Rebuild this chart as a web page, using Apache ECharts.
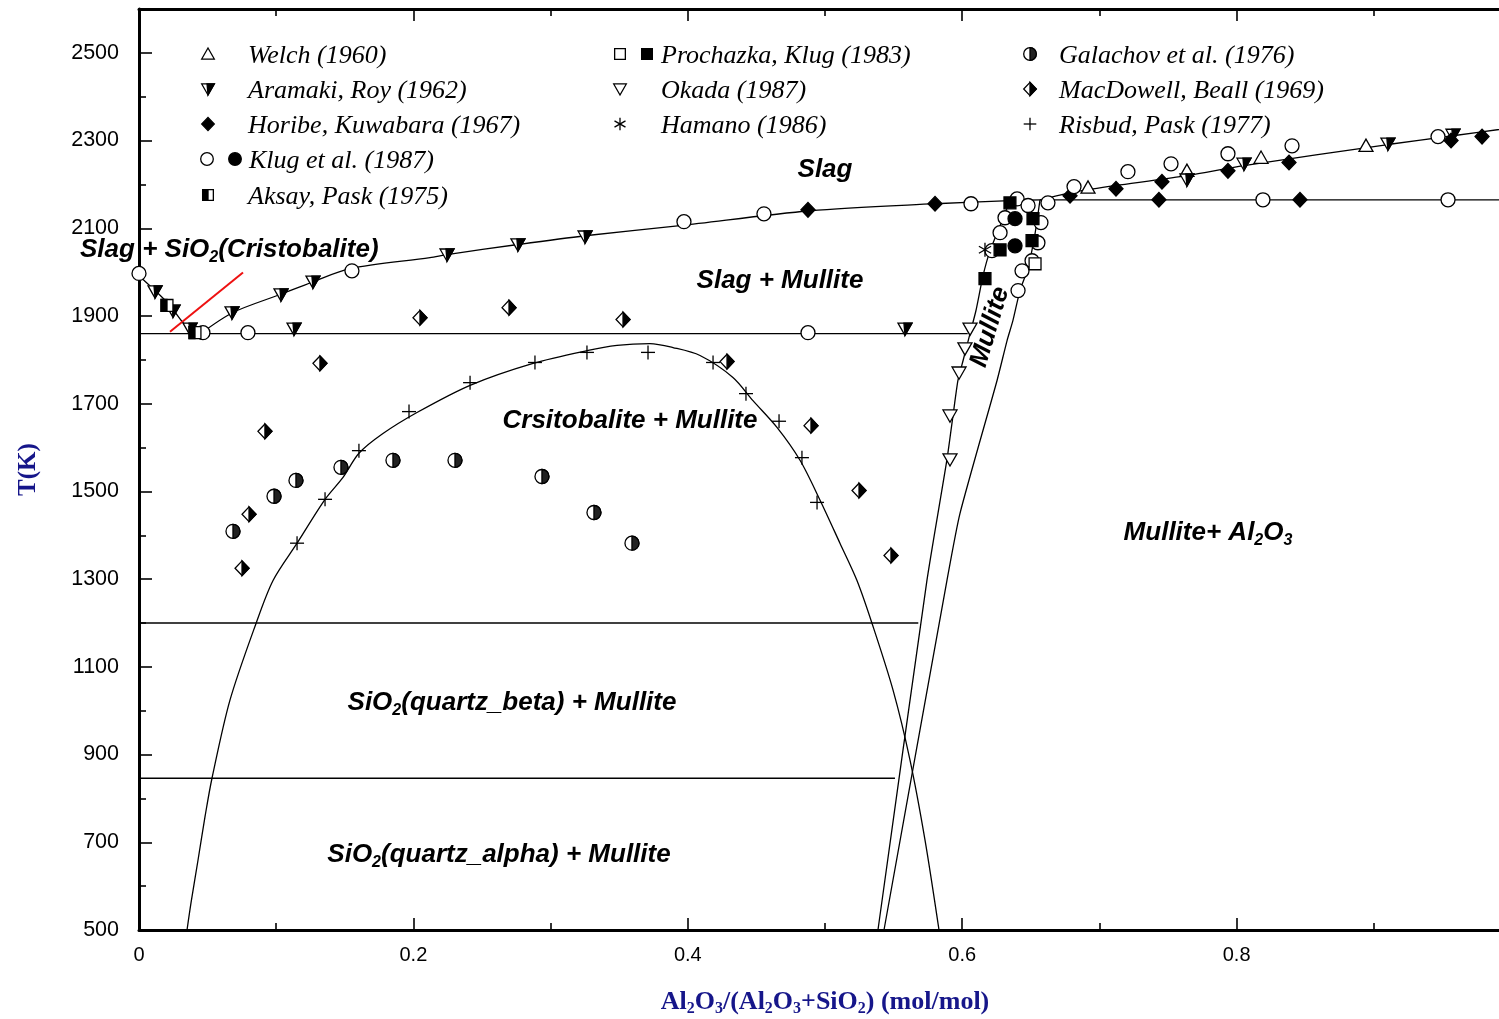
<!DOCTYPE html>
<html>
<head>
<meta charset="utf-8">
<script src="https://cdn.jsdelivr.net/npm/echarts@6/dist/echarts.min.js"></script>
<style>
  html, body { margin: 0; padding: 0; background: #fff; }
  #chart { width: 1499px; height: 1019px; }
</style>
</head>
<body>
<div id="chart"></div>
<script>
// ---- Axis ticks ----
const xTickLabels = [0, 0.2, 0.4, 0.6, 0.8];
const yTickLabels = [500, 700, 900, 1100, 1300, 1500, 1700, 1900, 2100, 2300, 2500];
const yMinorTicks = [600, 800, 1000, 1200, 1400, 1600, 1800, 2000, 2200, 2400];

// ---- Phase boundaries: [Al2O3 mole fraction, T (K)] ----
const liquidusSilica = [[0, 1992], [0.0117, 1958], [0.0226, 1924], [0.0321, 1885], [0.0394, 1864], [0.045, 1860]];
const liquidusMullite = [[0.045, 1860], [0.0685, 1908], [0.1028, 1949], [0.1268, 1978], [0.1538, 2008], [0.2121, 2033],
  [0.2245, 2040], [0.2762, 2063], [0.3251, 2083], [0.3943, 2106], [0.4891, 2140], [0.5802, 2156], [0.6348, 2163], [0.6567, 2165]];
const liquidusCorundum = [[0.6567, 2165], [0.6822, 2183], [0.715, 2199], [0.7638, 2220], [0.8054, 2243], [0.9103, 2291],
  [0.9577, 2311], [1.0, 2329]];
const mulliteCorundumLine = [[0.6567, 2165], [1.0, 2165]];
const eutecticLine = [[0, 1860], [0.604, 1860]];
const quartzBetaLine = [[0, 1200], [0.568, 1200]];
const quartzAlphaLine = [[0, 846], [0.551, 846]];
const mulliteLeft = [[0.6348, 2163], [0.6276, 2106], [0.6203, 2049], [0.6152, 1992], [0.61, 1912], [0.6057, 1860],
  [0.6006, 1798], [0.5969, 1753], [0.5933, 1673], [0.5889, 1573], [0.5743, 1297], [0.5386, 500]];
const mulliteRight = [[0.6567, 2165], [0.6531, 2088], [0.648, 2010], [0.6421, 1958], [0.637, 1890], [0.6327, 1844],
  [0.6254, 1753], [0.5984, 1450], [0.5889, 1297], [0.543, 500]];
const metastableDome = [[0.035, 500], [0.0379, 562], [0.043, 659], [0.0482, 760], [0.0532, 846], [0.0663, 1024],
  [0.0853, 1199], [0.0977, 1297], [0.1152, 1382], [0.1356, 1482], [0.1487, 1532], [0.1603, 1587], [0.1778, 1632],
  [0.2026, 1680], [0.2413, 1742], [0.2872, 1792], [0.3265, 1821], [0.3484, 1833], [0.3724, 1837], [0.3892, 1828],
  [0.4089, 1810], [0.4329, 1760], [0.4475, 1707], [0.465, 1646], [0.4818, 1571], [0.4964, 1480], [0.5109, 1382],
  [0.5233, 1297], [0.5343, 1199], [0.5496, 1047], [0.562, 887], [0.5729, 705], [0.5831, 500]];
const redGuide = [[0.0226, 1864], [0.0758, 1999]];

// ---- Experimental points ----
const welch1960 = [[0.6917, 2193], [0.7638, 2231], [0.8178, 2261], [0.8943, 2288]];
const aramakiRoy1962 = [[0.0117, 1956], [0.0248, 1912], [0.0372, 1871], [0.0678, 1908], [0.1035, 1949], [0.1268, 1978],
  [0.2245, 2040], [0.2762, 2063], [0.3251, 2081], [0.113, 1871], [0.5583, 1871], [0.7638, 2211], [0.8054, 2247],
  [0.9103, 2293], [0.9577, 2313]];
const horibeKuwabara1967 = [[0.4876, 2142], [0.5802, 2156], [0.6786, 2174], [0.7121, 2190], [0.7456, 2206],
  [0.7937, 2231], [0.8382, 2250], [0.9563, 2300], [0.9789, 2309], [0.7434, 2165], [0.8462, 2165]];
const klug1987Open = [[0, 1997], [0.0466, 1862], [0.0794, 1862], [0.1552, 2003], [0.3972, 2115], [0.4555, 2133],
  [0.4876, 1862], [0.6064, 2156], [0.64, 2167], [0.648, 2152], [0.6625, 2158], [0.6815, 2195], [0.7208, 2229],
  [0.7522, 2247], [0.7937, 2270], [0.8404, 2288], [0.9468, 2309], [0.8192, 2165], [0.9541, 2165], [0.6312, 2124],
  [0.6276, 2090], [0.6574, 2113], [0.6217, 2049], [0.6552, 2067], [0.6509, 2026], [0.6436, 2003], [0.6407, 1958]];
const klug1987Filled = [[0.6385, 2122], [0.6385, 2060]];
const aksayPask1975 = [[0.0204, 1924], [0.0408, 1862]];
const prochazkaKlug1983Open = [[0.6531, 2019]];
const prochazkaKlug1983Filled = [[0.6348, 2158], [0.6516, 2122], [0.6276, 2051], [0.6509, 2072], [0.6166, 1985]];
const okada1987 = [[0.6057, 1871], [0.602, 1826], [0.5977, 1771], [0.5911, 1673], [0.5911, 1573]];
const hamano1986 = [[0.6166, 2051]];
const galachov1976 = [[0.0685, 1409], [0.0984, 1489], [0.1144, 1525], [0.1472, 1555], [0.1851, 1571], [0.2303, 1571],
  [0.2937, 1534], [0.3316, 1452], [0.3593, 1382]];
const macDowellBeall1969 = [[0.0751, 1325], [0.0802, 1448], [0.0918, 1637], [0.1319, 1792], [0.2048, 1896],
  [0.2697, 1919], [0.3528, 1892], [0.4286, 1796], [0.4898, 1650], [0.5248, 1502], [0.5481, 1354]];
const risbudPask1977 = [[0.1152, 1382], [0.1356, 1482], [0.1603, 1593], [0.1968, 1682], [0.2413, 1748], [0.2886, 1794],
  [0.3265, 1817], [0.371, 1817], [0.4184, 1794], [0.4424, 1723], [0.4665, 1660], [0.4832, 1577], [0.4942, 1475]];

// ---- Marker glyphs (pixel space) ----
function glyph(kind, x, y, k) {
  k = k || 1;
  const W = { fill: '#fff', stroke: '#000', lineWidth: 1.3 };
  const B = { fill: '#000', stroke: '#000', lineWidth: 1.3 };
  const Ln = { fill: null, stroke: '#000', lineWidth: 1.3 };
  const h = 7 * k;
  const poly = (pts, st) => ({ type: 'polygon', shape: { points: pts }, style: st });
  const line = (x1, y1, x2, y2) => ({ type: 'line', shape: { x1, y1, x2, y2 }, style: Ln });
  switch (kind) {
    case 'triUp':
      return [poly([[x, y - 0.95 * h], [x + h, y + 0.8 * h], [x - h, y + 0.8 * h]], W)];
    case 'triDown':
      return [poly([[x - h, y - 0.8 * h], [x + h, y - 0.8 * h], [x, y + 0.95 * h]], W)];
    case 'triDownHalf':
      return [poly([[x - h, y - 0.8 * h], [x + h, y - 0.8 * h], [x, y + 0.95 * h]], W),
              poly([[x - 0.15 * h, y - 0.8 * h], [x + h, y - 0.8 * h], [x, y + 0.95 * h]], B)];
    case 'diamond':
      return [poly([[x, y - 1.05 * h], [x + h, y], [x, y + 1.05 * h], [x - h, y]], B)];
    case 'diamondHalf':
      return [poly([[x, y - 1.05 * h], [x + h, y], [x, y + 1.05 * h], [x - h, y]], W),
              poly([[x, y - 1.05 * h], [x + h, y], [x, y + 1.05 * h]], B)];
    case 'circle':
      return [{ type: 'circle', shape: { cx: x, cy: y, r: h }, style: W }];
    case 'dot':
      return [{ type: 'circle', shape: { cx: x, cy: y, r: h }, style: B }];
    case 'circleHalf':
      return [{ type: 'circle', shape: { cx: x, cy: y, r: h }, style: W },
              { type: 'sector', shape: { cx: x, cy: y, r: h, r0: 0, startAngle: -Math.PI / 2, endAngle: Math.PI / 2, clockwise: true },
                style: { fill: '#222', stroke: '#000', lineWidth: 1.3 } }];
    case 'square':
      return [{ type: 'rect', shape: { x: x - 0.85 * h, y: y - 0.85 * h, width: 1.7 * h, height: 1.7 * h }, style: W }];
    case 'squareFilled':
      return [{ type: 'rect', shape: { x: x - 0.85 * h, y: y - 0.85 * h, width: 1.7 * h, height: 1.7 * h }, style: B }];
    case 'squareHalf':
      return [{ type: 'rect', shape: { x: x - 0.85 * h, y: y - 0.85 * h, width: 1.7 * h, height: 1.7 * h }, style: W },
              { type: 'rect', shape: { x: x - 0.85 * h, y: y - 0.85 * h, width: 0.85 * h, height: 1.7 * h }, style: B }];
    case 'star':
      return [line(x, y - h, x, y + h), line(x - 0.87 * h, y - 0.5 * h, x + 0.87 * h, y + 0.5 * h),
              line(x - 0.87 * h, y + 0.5 * h, x + 0.87 * h, y - 0.5 * h)];
    case 'plus':
      return [line(x - h, y, x + h, y), line(x, y - h, x, y + h)];
  }
  return [];
}

function pointSeries(name, data, kind) {
  return {
    name, type: 'custom', coordinateSystem: 'cartesian2d', data, z: 5, silent: true,
    renderItem: (params, api) => {
      const p = api.coord([api.value(0), api.value(1)]);
      return { type: 'group', children: glyph(kind, p[0], p[1], 1) };
    }
  };
}

function curve(name, data, opt) {
  return Object.assign({
    name, type: 'line', data, symbol: 'none', showSymbol: false, silent: true, z: 2,
    lineStyle: { color: '#000', width: 1.3 }
  }, opt || {});
}

// ---- Text helpers ----
const SANS = 'Liberation Sans';
const SERIF = 'Liberation Serif';
const regionMain = { fontFamily: SANS, fontWeight: 'bold', fontStyle: 'italic', fontSize: 26, fill: '#000', color: '#000', lineHeight: 32 };
const regionSub = { fontFamily: SANS, fontWeight: 'bold', fontStyle: 'italic', fontSize: 16, fill: '#000', color: '#000', lineHeight: 18, verticalAlign: 'bottom' };

function regionLabel(text, x, y, align, rotDeg) {
  return {
    type: 'text', x, y, rotation: (rotDeg || 0) * Math.PI / 180, z: 10, silent: true,
    style: { text, rich: { b: regionMain, s: regionSub }, align: align || 'center', verticalAlign: 'middle' }
  };
}

// legend entries: glyph kinds, glyph x positions, text x, row y
const legendItems = [
  { label: 'Welch (1960)', kinds: ['triUp'], gx: [208], tx: 248, y: 54 },
  { label: 'Aramaki, Roy (1962)', kinds: ['triDownHalf'], gx: [208], tx: 248, y: 89 },
  { label: 'Horibe, Kuwabara (1967)', kinds: ['diamond'], gx: [208], tx: 248, y: 124 },
  { label: 'Klug et al. (1987)', kinds: ['circle', 'dot'], gx: [207, 235], tx: 249, y: 159 },
  { label: 'Aksay, Pask (1975)', kinds: ['squareHalf'], gx: [208], tx: 248, y: 195 },
  { label: 'Prochazka, Klug (1983)', kinds: ['square', 'squareFilled'], gx: [620, 647], tx: 661, y: 54 },
  { label: 'Okada (1987)', kinds: ['triDown'], gx: [620], tx: 661, y: 89 },
  { label: 'Hamano (1986)', kinds: ['star'], gx: [620], tx: 661, y: 124 },
  { label: 'Galachov et al. (1976)', kinds: ['circleHalf'], gx: [1030], tx: 1059, y: 54 },
  { label: 'MacDowell, Beall (1969)', kinds: ['diamondHalf'], gx: [1030], tx: 1059, y: 89 },
  { label: 'Risbud, Pask (1977)', kinds: ['plus'], gx: [1030], tx: 1059, y: 124 }
];

const graphics = [];
legendItems.forEach(it => {
  it.kinds.forEach((kd, i) => {
    graphics.push({ type: 'group', silent: true, z: 10, children: glyph(kd, it.gx[i], it.y, 0.9) });
  });
  graphics.push({
    type: 'text', x: it.tx, y: it.y + 2, silent: true, z: 10,
    style: { text: it.label, fill: '#000', font: 'italic 26px "Liberation Serif"', align: 'left', verticalAlign: 'middle' }
  });
});

graphics.push(
  regionLabel('{b|Slag}', 825, 170),
  regionLabel('{b|Slag + SiO}{s|2}{b|(Cristobalite)}', 80, 250, 'left'),
  regionLabel('{b|Slag + Mullite}', 780, 281),
  regionLabel('{b|Crsitobalite + Mullite}', 630, 421),
  regionLabel('{b|Mullite}', 990, 327, 'center', 73.7),
  regionLabel('{b|Mullite+ Al}{s|2}{b|O}{s|3}', 1208, 533),
  regionLabel('{b|SiO}{s|2}{b|(quartz_beta) + Mullite}', 512, 703),
  regionLabel('{b|SiO}{s|2}{b|(quartz_alpha) + Mullite}', 499, 855)
);

const axisTitleMain = { fontFamily: SERIF, fontWeight: 'bold', fontSize: 26, color: '#16168a', lineHeight: 30 };
const axisTitleSub = { fontFamily: SERIF, fontWeight: 'bold', fontSize: 16, color: '#16168a', lineHeight: 18, verticalAlign: 'bottom' };

const chart = echarts.init(document.getElementById('chart'), null, { renderer: 'canvas' });

const blackLine = { color: '#000', width: 3 };
const tickStyle = { color: '#000', width: 1.6 };

chart.setOption({
  animation: false,
  backgroundColor: '#fff',
  grid: { left: 139, top: 9, width: 1372, height: 921, containLabel: false, outerBoundsMode: 'none' },
  xAxis: [
    {
      type: 'value', position: 'bottom', min: 0, max: 1, interval: 0.2,
      axisLine: { show: true, onZero: false, lineStyle: blackLine },
      axisTick: { show: true, inside: true, length: 12, lineStyle: tickStyle },
      minorTick: { show: true, splitNumber: 2, length: 7, lineStyle: tickStyle },
      splitLine: { show: false },
      axisLabel: {
        show: true, margin: 15, color: '#000', fontFamily: SANS, fontSize: 20,
        formatter: v => (xTickLabels.indexOf(Math.round(v * 10) / 10) < 0 ? '' : (v === 0 ? '0' : v.toFixed(1)))
      },
      name: '{a|Al}{s|2}{a|O}{s|3}{a|/(Al}{s|2}{a|O}{s|3}{a|+SiO}{s|2}{a|) (mol/mol)}',
      nameLocation: 'middle', nameGap: 57,
      nameTextStyle: { rich: { a: axisTitleMain, s: axisTitleSub } }
    },
    {
      type: 'value', position: 'top', min: 0, max: 1, interval: 0.2,
      axisLine: { show: true, onZero: false, lineStyle: blackLine },
      axisTick: { show: true, inside: true, length: 12, lineStyle: tickStyle },
      minorTick: { show: true, splitNumber: 2, length: 7, lineStyle: tickStyle },
      splitLine: { show: false },
      axisLabel: { show: false }
    }
  ],
  yAxis: [
    {
      type: 'value', position: 'left', min: 500, max: 2600,
      axisLine: { show: true, onZero: false, lineStyle: blackLine },
      axisTick: { show: true, inside: true, length: 13, lineStyle: tickStyle, customValues: yTickLabels },
      splitLine: { show: false },
      axisLabel: {
        show: true, margin: 20, color: '#000', fontFamily: SANS, fontSize: 21.5, customValues: yTickLabels,
        formatter: v => String(v)
      },
      name: 'T(K)', nameLocation: 'middle', nameGap: 98, nameRotate: 90,
      nameTextStyle: { fontFamily: SERIF, fontWeight: 'bold', fontSize: 25, color: '#16168a' }
    },
    {
      type: 'value', position: 'left', min: 500, max: 2600,
      axisLine: { show: false },
      axisTick: { show: true, inside: true, length: 7, lineStyle: tickStyle, customValues: yMinorTicks },
      splitLine: { show: false },
      axisLabel: { show: false }
    }
  ],
  series: [
    curve('liquidus SiO2', liquidusSilica, { smooth: 0.3 }),
    curve('liquidus mullite', liquidusMullite, { smooth: 0.3 }),
    curve('liquidus Al2O3', liquidusCorundum, { smooth: 0.3 }),
    curve('mullite + Al2O3', mulliteCorundumLine),
    curve('eutectic', eutecticLine),
    curve('quartz beta', quartzBetaLine),
    curve('quartz alpha', quartzAlphaLine),
    curve('mullite left', mulliteLeft, { smooth: 0.2 }),
    curve('mullite right', mulliteRight, { smooth: 0.2 }),
    curve('miscibility', metastableDome, { smooth: 0.3 }),
    curve('guide', redGuide, { lineStyle: { color: '#ee1111', width: 2 }, z: 3 }),
    pointSeries('Welch (1960)', welch1960, 'triUp'),
    pointSeries('Aramaki, Roy (1962)', aramakiRoy1962, 'triDownHalf'),
    pointSeries('Horibe, Kuwabara (1967)', horibeKuwabara1967, 'diamond'),
    pointSeries('Klug et al. (1987)', klug1987Open, 'circle'),
    pointSeries('Klug et al. (1987) solid', klug1987Filled, 'dot'),
    pointSeries('Aksay, Pask (1975)', aksayPask1975, 'squareHalf'),
    pointSeries('Prochazka, Klug (1983)', prochazkaKlug1983Open, 'square'),
    pointSeries('Prochazka, Klug (1983) solid', prochazkaKlug1983Filled, 'squareFilled'),
    pointSeries('Okada (1987)', okada1987, 'triDown'),
    pointSeries('Hamano (1986)', hamano1986, 'star'),
    pointSeries('Galachov et al. (1976)', galachov1976, 'circleHalf'),
    pointSeries('MacDowell, Beall (1969)', macDowellBeall1969, 'diamondHalf'),
    pointSeries('Risbud, Pask (1977)', risbudPask1977, 'plus')
  ],
  graphic: graphics
});
</script>
</body>
</html>
